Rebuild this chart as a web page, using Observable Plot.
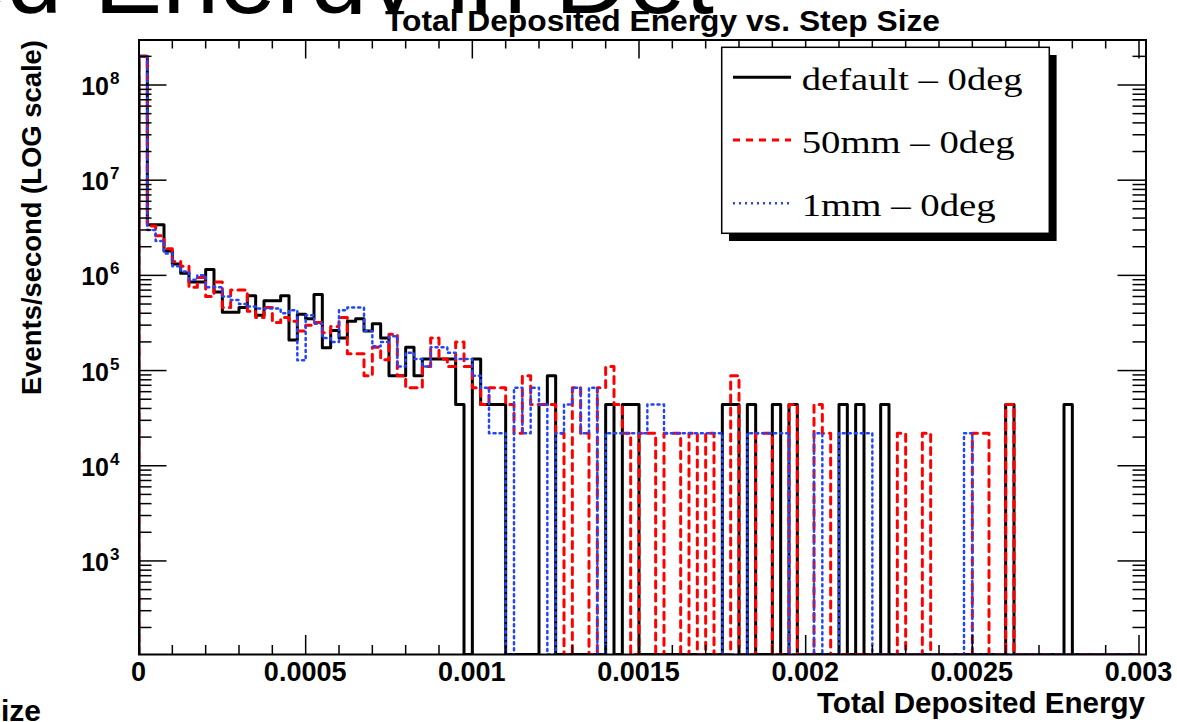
<!DOCTYPE html>
<html><head><meta charset="utf-8">
<script src="https://cdn.jsdelivr.net/npm/d3@7"></script>
<script src="https://cdn.jsdelivr.net/npm/@observablehq/plot@0.6"></script>
<style>
body{margin:0;background:#fff;overflow:hidden;}
#wrap{position:relative;width:1177px;height:722px;}
</style></head><body><div id="wrap"></div>
<script>
// ---- data ----
const binWidth = 0.000025;
const seriesNames = ["default \u2013 0deg", "50mm \u2013 0deg", "1mm \u2013 0deg"];
const defaultVals = [
 2.0e8,3.4e6,3.4e6,1.8e6,1.32e6,1.05e6,8.5e5,8.5e5,1.15e6,6.7e5,
 4.1e5,4.1e5,4.6e5,6.1e5,3.8e5,5.4e5,5.4e5,6.1e5,2.1e5,3.9e5,
 3.5e5,6.3e5,1.74e5,2.64e5,2.2e5,3.3e5,3.5e5,2.6e5,3.1e5,2.2e5,
 8.8e4,8.8e4,1.76e5,8.8e4,1.32e5,1.32e5,1.32e5,1.32e5,4.4e4,0,
 1.32e5,4.4e4,4.4e4,4.4e4,0,0,0,0,4.4e4,8.8e4,
 0,0,0,0,0,0,4.4e4,0,4.4e4,4.4e4,
 0,0,0,0,0,0,0,0,0,0,
 4.4e4,4.4e4,0,4.4e4,0,0,4.4e4,0,4.4e4,0,
 0,0,0,0,4.4e4,0,4.4e4,0,0,4.4e4,
 0,0,0,0,0,0,0,0,0,0,
 0,0,0,0,4.4e4,0,0,0,0,0,
 0,4.4e4,0,0,0,0,0,0,0,0];
const mm50Vals = [
 2.0e8,3.3e6,2.6e6,1.9e6,1.4e6,1.25e6,7.5e5,9.5e5,6.0e5,8.5e5,
 4.6e5,7.0e5,7.0e5,4.2e5,3.6e5,4.6e5,3.2e5,3.6e5,3.3e5,2.6e5,
 3.0e5,3.2e5,2.5e5,2.9e5,3.6e5,1.5e5,1.5e5,8.8e4,1.76e5,1.3e5,
 2.4e5,8.8e4,6.6e4,6.6e4,1.1e5,2.2e5,1.32e5,1.1e5,2.0e5,1.1e5,
 6.6e4,4.4e4,6.6e4,6.6e4,4.4e4,2.2e4,8.8e4,4.4e4,4.4e4,4.4e4,
 2.2e4,0,6.6e4,2.2e4,0,6.6e4,1.1e5,4.4e4,2.2e4,0,
 2.2e4,2.2e4,0,2.2e4,2.2e4,0,2.2e4,0,2.2e4,0,
 0,8.8e4,0,0,2.2e4,2.2e4,0,0,4.4e4,0,
 0,4.4e4,2.2e4,0,0,0,0,0,0,0,
 0,2.2e4,0,0,2.2e4,0,0,0,0,0,
 2.2e4,2.2e4,0,0,4.4e4,0,0,0,0,0,
 0,0,0,0,0,0,0,0,0,0];
const mm1Vals = [
 2.0e8,3.0e6,2.3e6,1.7e6,1.25e6,1.1e6,9.0e5,1.0e6,7.5e5,7.5e5,
 6.0e5,5.5e5,5.0e5,4.7e5,4.5e5,4.5e5,4.5e5,4.0e5,4.3e5,1.28e5,
 3.8e5,3.1e5,2.2e5,2.0e5,4.3e5,4.6e5,4.6e5,2.6e5,1.8e5,2.0e5,
 2.3e5,1.1e5,1.54e5,1.32e5,1.1e5,1.76e5,1.76e5,1.54e5,1.32e5,1.32e5,
 8.8e4,6.6e4,2.2e4,2.2e4,0,6.6e4,2.2e4,6.6e4,4.4e4,0,
 2.2e4,4.4e4,6.6e4,2.2e4,6.6e4,0,2.2e4,2.2e4,2.2e4,2.2e4,
 2.2e4,4.4e4,4.4e4,2.2e4,2.2e4,2.2e4,2.2e4,2.2e4,2.2e4,2.2e4,
 0,0,0,2.2e4,2.2e4,2.2e4,2.2e4,2.2e4,0,0,
 0,2.2e4,0,0,2.2e4,2.2e4,2.2e4,2.2e4,0,0,
 0,0,0,0,0,0,0,0,0,2.2e4,
 0,0,0,0,0,0,0,0,0,0,
 0,0,0,0,0,0,0,0,0,0];
const xMajorTicks = [0, 0.0005, 0.001, 0.0015, 0.002, 0.0025, 0.003];
const xTickLabels = ["0", "0.0005", "0.001", "0.0015", "0.002", "0.0025", "0.003"];
const yDecades = [1e3, 1e4, 1e5, 1e6, 1e7, 1e8];
const yTickExps = ["3", "4", "5", "6", "7", "8"];
const xDomain = [0, 0.003021];
const yDomain = [104, 2.97e8];

// ---- derived tick lists ----
const xMinorTicks = d3.range(1, 31).filter(k => k % 5 !== 0).map(k => k * 1e-4);
const yMinorTicks = [];
for (let e = 2; e <= 8; e++) for (let m = 2; m <= 9; m++) {
  const v = m * Math.pow(10, e);
  if (v > yDomain[0] && v < yDomain[1]) yMinorTicks.push(v);
}

function outline(vals) {
  const floor = yDomain[0];
  const pts = [{x: 0, y: floor}];
  vals.forEach((v, i) => {
    const y = v > 0 ? v : floor;
    pts.push({x: i * binWidth, y}, {x: (i + 1) * binWidth, y});
  });
  pts.push({x: vals.length * binWidth, y: floor});
  return pts;
}

const W = 1177, H = 722, mL = 138.5, mR = 31.5, mT = 39.5, mB = 68;
const fW = W - mL - mR, fH = H - mT - mB;
const tk = {stroke: "black", strokeWidth: 1.5};
const redDash = "7,6", blueDash = "2,4";

const chart = Plot.plot({
  width: W, height: H,
  marginLeft: mL, marginRight: mR, marginTop: mT, marginBottom: mB,
  style: {background: "white", overflow: "visible"},
  x: {domain: xDomain, axis: null},
  y: {type: "log", domain: yDomain, axis: null},
  marks: [
    Plot.line(outline(defaultVals), {x: "x", y: "y", stroke: "black", strokeWidth: 3, clip: true}),
    Plot.line(outline(mm50Vals), {x: "x", y: "y", stroke: "#ff0000", strokeWidth: 3, strokeDasharray: redDash, clip: true}),
    Plot.line(outline(mm1Vals), {x: "x", y: "y", stroke: "#2244ff", strokeWidth: 2.5, strokeDasharray: blueDash, clip: true}),
    Plot.tickX(xMajorTicks, {x: d => d, insetTop: fH - 19, ...tk}),
    Plot.tickX(xMajorTicks, {x: d => d, insetBottom: fH - 19, ...tk}),
    Plot.tickX(xMinorTicks, {x: d => d, insetTop: fH - 9, ...tk}),
    Plot.tickX(xMinorTicks, {x: d => d, insetBottom: fH - 9, ...tk}),
    Plot.tickY(yDecades, {y: d => d, insetRight: fW - 28, ...tk}),
    Plot.tickY(yDecades, {y: d => d, insetLeft: fW - 28, ...tk}),
    Plot.tickY(yMinorTicks, {y: d => d, insetRight: fW - 13, ...tk}),
    Plot.tickY(yMinorTicks, {y: d => d, insetLeft: fW - 13, ...tk}),
    Plot.frame({stroke: "black", strokeWidth: 2})
  ]
});
document.getElementById("wrap").appendChild(chart);

const svg = d3.select(chart);
const sx = chart.scale("x"), sy = chart.scale("y");
const sans = "'Liberation Sans', Arial, Helvetica, sans-serif";
const serif = "'Liberation Serif', 'Times New Roman', serif";
function txt(parent, x, y, s, o = {}) {
  const t = parent.append("text").attr("x", x).attr("y", y)
    .attr("text-anchor", o.anchor || "start")
    .attr("font-family", o.family || sans)
    .attr("font-size", o.size || 20)
    .attr("font-weight", o.weight || "normal")
    .attr("fill", o.fill || "black")
    .text(s);
  if (o.len) t.attr("textLength", o.len).attr("lengthAdjust", "spacingAndGlyphs");
  if (o.transform) t.attr("transform", o.transform);
  return t;
}

// big slide title behind the chart image: only its lowest strip shows above the chart
svg.append("clipPath").attr("id", "topstrip").append("rect")
  .attr("x", 0).attr("y", 0).attr("width", W).attr("height", 14);
const bg = svg.append("g").attr("clip-path", "url(#topstrip)");
txt(bg, 94, 13, "Energy in Det", {size: 100, len: 620});
txt(bg, 62, 13, "ted", {size: 100, anchor: "end"});
txt(svg, 41, 721, "Step Size", {size: 30, weight: "bold", anchor: "end"});

// title
txt(svg, 385, 31, "Total Deposited Energy vs. Step Size", {size: 29, weight: "bold", len: 555});

// x tick labels
xMajorTicks.forEach((v, i) => txt(svg, sx.apply(v), 681, xTickLabels[i], {size: 27, weight: "bold", anchor: "middle"}));
// x title
txt(svg, 817, 713, "Total Deposited Energy", {size: 29, weight: "bold", len: 328});

// y tick labels
yDecades.forEach((v, i) => {
  const y = sy.apply(v);
  txt(svg, 109, y + 10.5, "10", {size: 25, weight: "bold", anchor: "end"});
  txt(svg, 110, y - 0.5, yTickExps[i], {size: 17, weight: "bold"});
});
// y title
txt(svg, 0, 0, "Events/second (LOG scale)", {size: 27, weight: "bold", anchor: "end", len: 355,
  transform: "translate(41,40) rotate(-90)"});

// legend
const lg = svg.append("g");
lg.append("rect").attr("x", 729).attr("y", 55).attr("width", 327.6).attr("height", 186).attr("fill", "black");
lg.append("rect").attr("x", 721.7).attr("y", 47.3).attr("width", 327.6).attr("height", 186)
  .attr("fill", "white").attr("stroke", "black").attr("stroke-width", 1.5);
const legStyles = [
  {stroke: "black", dash: null, w: 3},
  {stroke: "#ff0000", dash: redDash, w: 3},
  {stroke: "#2244ff", dash: blueDash, w: 2.5}
];
const legY = [77.3, 140, 203.3];
const legLen = [221, 213, 194];
seriesNames.forEach((name, i) => {
  const l = lg.append("line").attr("x1", 733).attr("x2", 791).attr("y1", legY[i]).attr("y2", legY[i])
    .attr("stroke", legStyles[i].stroke).attr("stroke-width", legStyles[i].w);
  if (legStyles[i].dash) l.attr("stroke-dasharray", legStyles[i].dash);
  txt(lg, 801.7, legY[i] + 12.5, name, {family: serif, size: 32, len: legLen[i]});
});
</script></body></html>
